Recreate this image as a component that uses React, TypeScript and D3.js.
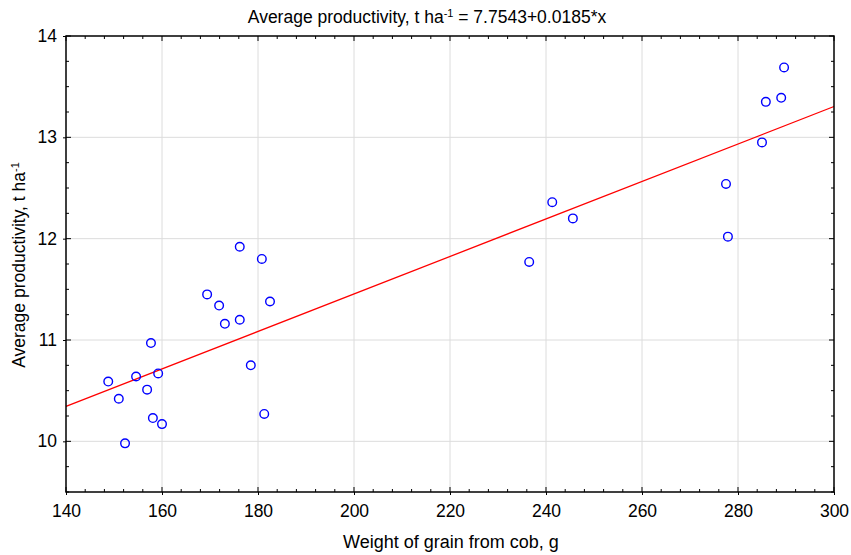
import React, { useEffect, useRef } from 'react'
import * as d3 from 'd3'

// weight of grain from cob (g) and average productivity (t/ha)
const weight = [148.8, 151.0, 152.3, 154.6, 156.9, 157.7, 158.1, 159.2, 160.0, 169.4, 171.9, 173.1, 176.2, 176.2, 178.5, 180.8, 181.3, 182.5, 236.5, 241.3, 245.6, 277.5, 277.9, 285.0, 285.8, 289.0, 289.6]
const productivity = [10.59, 10.42, 9.98, 10.64, 10.51, 10.97, 10.23, 10.67, 10.17, 11.45, 11.34, 11.16, 11.92, 11.20, 10.75, 11.80, 10.27, 11.38, 11.77, 12.36, 12.20, 12.54, 12.02, 12.95, 13.35, 13.39, 13.69]
const intercept = 7.7543
const slope = 0.0185
const xTicks = [140, 160, 180, 200, 220, 240, 260, 280, 300]
const yTicks = [10, 11, 12, 13, 14]

const W = 851
const H = 555
const margin = { top: 36, right: 17, bottom: 63, left: 66 }
const font = '"Liberation Sans", Arial, sans-serif'

const App = () => {
  const ref = useRef(null)

  useEffect(() => {
    const x = d3.scaleLinear().domain([140, 300]).range([margin.left, W - margin.right])
    const y = d3.scaleLinear().domain([9.5, 14]).range([H - margin.bottom, margin.top])
    const svg = d3.select(ref.current)
    svg.selectAll('*').remove()

    const x0 = margin.left, x1 = W - margin.right
    const y0 = H - margin.bottom, y1 = margin.top

    // grid
    const grid = svg.append('g').attr('stroke', '#dcdcdc').attr('stroke-width', 1)
    grid.selectAll('.gx').data(xTicks.slice(1, -1)).join('line')
      .attr('x1', d => x(d)).attr('x2', d => x(d)).attr('y1', y0).attr('y2', y1)
    grid.selectAll('.gy').data(yTicks.slice(0, -1)).join('line')
      .attr('y1', d => y(d)).attr('y2', d => y(d)).attr('x1', x0).attr('x2', x1)

    // ticks on all four sides, inward
    const minorX = d3.range(140, 300.01, 4)
    const minorY = d3.range(9.5, 14.01, 0.25)
    const tk = svg.append('g').attr('stroke', '#000').attr('stroke-width', 1)
    tk.selectAll('.tb').data(minorX).join('line')
      .attr('x1', d => x(d)).attr('x2', d => x(d))
      .attr('y1', y0).attr('y2', d => y0 - (xTicks.includes(Math.round(d)) ? 5 : 3))
    tk.selectAll('.tt').data(minorX).join('line')
      .attr('x1', d => x(d)).attr('x2', d => x(d))
      .attr('y1', y1).attr('y2', d => y1 + (xTicks.includes(Math.round(d)) ? 5 : 3))
    tk.selectAll('.tl').data(minorY).join('line')
      .attr('y1', d => y(d)).attr('y2', d => y(d))
      .attr('x1', x0).attr('x2', d => x0 + (yTicks.includes(d) ? 5 : 3))
    tk.selectAll('.tr').data(minorY).join('line')
      .attr('y1', d => y(d)).attr('y2', d => y(d))
      .attr('x1', x1).attr('x2', d => x1 - (yTicks.includes(d) ? 5 : 3))

    // axes labels via d3 axes
    const xAxis = svg.append('g')
      .attr('transform', `translate(0,${y0})`)
      .call(d3.axisBottom(x).tickValues(xTicks).tickSize(3).tickPadding(10).tickFormat(d3.format('d')))
    xAxis.select('.domain').remove()
    xAxis.selectAll('text').attr('font-family', font).attr('font-size', 17.5).attr('fill', '#000')

    const yAxis = svg.append('g')
      .attr('transform', `translate(${x0},0)`)
      .call(d3.axisLeft(y).tickValues(yTicks).tickSize(3).tickPadding(6).tickFormat(d3.format('d')))
    yAxis.select('.domain').remove()
    yAxis.selectAll('text').attr('font-family', font).attr('font-size', 17.5).attr('fill', '#000')

    // regression line
    svg.append('line')
      .attr('x1', x(140)).attr('y1', y(intercept + slope * 140))
      .attr('x2', x(300)).attr('y2', y(intercept + slope * 300))
      .attr('stroke', '#ff0000').attr('stroke-width', 1.3)

    // points
    svg.append('g').selectAll('circle')
      .data(weight.map((w, i) => [w, productivity[i]]))
      .join('circle')
      .attr('cx', d => x(d[0])).attr('cy', d => y(d[1])).attr('r', 4.3)
      .attr('fill', 'none').attr('stroke', '#0000ff').attr('stroke-width', 1.4)

    // frame
    svg.append('rect')
      .attr('x', x0).attr('y', y1).attr('width', x1 - x0).attr('height', y0 - y1)
      .attr('fill', 'none').attr('stroke', '#000').attr('stroke-width', 1.5)

    // title
    const title = svg.append('text')
      .attr('x', 427).attr('y', 23).attr('text-anchor', 'middle')
      .attr('font-family', font).attr('font-size', 17.5).attr('fill', '#000')
    title.append('tspan').text('Average productivity, t ha')
    title.append('tspan').attr('dy', -6).attr('font-size', 11).text('-1')
    title.append('tspan').attr('dy', 6).text(' = 7.7543+0.0185*x')

    svg.append('text')
      .attr('x', 451).attr('y', 548).attr('text-anchor', 'middle')
      .attr('font-family', font).attr('font-size', 18).attr('fill', '#000')
      .text('Weight of grain from cob, g')

    const yl = svg.append('text')
      .attr('transform', `translate(25,${(y0 + y1) / 2 + 1}) rotate(-90)`)
      .attr('text-anchor', 'middle')
      .attr('font-family', font).attr('font-size', 17.5).attr('fill', '#000')
    yl.append('tspan').text('Average productivity, t ha')
    yl.append('tspan').attr('dy', -6).attr('font-size', 11).text('-1')
  }, [])

  return (
    <svg width={W} height={H} ref={ref} style={{ position: 'absolute', left: 0, top: 0, background: '#fff' }} />
  )
}

export default App
